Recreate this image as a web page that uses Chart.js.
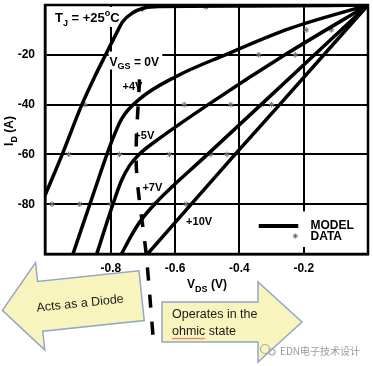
<!DOCTYPE html>
<html>
<head>
<meta charset="utf-8">
<script src="https://cdn.jsdelivr.net/npm/chart.js@4.4.1/dist/chart.umd.min.js"></script>
<style>
  html, body { margin: 0; padding: 0; background: #fff; }
</style>
</head>
<body>
<canvas id="grafico" width="373" height="366"></canvas>
<script>
// ejes
const ticksX = [-0.8, -0.6, -0.4, -0.2];
const ticksY = [-80, -60, -40, -20];

// curvas del modelo (VDS en V, ID en A)
const vds0V = [-1.005, -0.952, -0.891, -0.850, -0.816, -0.782, -0.764, -0.733, -0.696, -0.649, -0.371, 0];
const id0V = [-76.5, -60.2, -40.2, -28.7, -19.9, -11.2, -6.8, -3.2, -1.2, -0.6, -0.4, 0];

const vds4V = [-0.918, -0.853, -0.798, -0.767, -0.711, -0.597, -0.442, -0.247, 0];
const id4V = [-100, -75.3, -55.0, -45.8, -37.8, -28.7, -19.9, -9.6, 0];

const vds5V = [-0.844, -0.795, -0.767, -0.742, -0.714, -0.649, -0.495, -0.257, 0];
const id5V = [-100, -80.5, -70.5, -64.5, -60.2, -53.6, -39.8, -19.9, 0];

const vds7V = [-0.767, -0.739, -0.711, -0.665, -0.501, -0.331, 0];
const id7V = [-100, -93.2, -87.3, -80.1, -60.2, -39.8, 0];

const vds10V = [-0.686, -0.415, -0.275, 0];
const id10V = [-100, -60.2, -40.0, 0];

// puntos medidos
const vdsMedidos = [-0.881, -0.572, -0.427, -0.331, -0.300, -0.340, -0.226,
  -0.931, -0.773, -0.618, -0.489, -0.439, -0.983, -0.897, -0.801, -0.665, -0.566,
  -0.192, -0.114, -0.702, -0.504];
const idMedidos = [-40, -40, -40, -40, -40, -20, -20,
  -60, -60, -60, -60, -60, -80, -80, -80, -80, -80,
  -10, -10, -1.6, -0.8];

// limite diodo / ohmico (linea discontinua)
const vdsLimite = [-0.711, -0.721, -0.690, -0.668];
const idLimite = [-29.9, -64.5, -100.4, -134.3];

const fuente = '"Liberation Sans", Arial, sans-serif';

function puntos(xs, ys) {
  return xs.map((v, i) => ({ x: v, y: ys[i] }));
}

function curva(xs, ys) {
  return {
    data: puntos(xs, ys),
    borderColor: '#000',
    borderWidth: 3.5,
    pointRadius: 0,
    fill: false,
    cubicInterpolationMode: 'monotone'
  };
}

function textoCompuesto(ctx, partes, x, y, tam, medir) {
  let cx = x;
  partes.forEach(([t, modo]) => {
    const s = modo === 'n' ? tam : Math.round(tam * 0.72);
    const dy = modo === 'sub' ? tam * 0.3 : (modo === 'sup' ? -tam * 0.42 : 0);
    ctx.font = `bold ${s}px ${fuente}`;
    if (!medir) ctx.fillText(t, cx, y + dy);
    cx += ctx.measureText(t).width;
  });
  return cx - x;
}

function estrella(ctx, x, y, r) {
  ctx.beginPath();
  ctx.moveTo(x - r, y); ctx.lineTo(x + r, y);
  ctx.moveTo(x, y - r); ctx.lineTo(x, y + r);
  ctx.moveTo(x - r * 0.7, y - r * 0.7); ctx.lineTo(x + r * 0.7, y + r * 0.7);
  ctx.moveTo(x - r * 0.7, y + r * 0.7); ctx.lineTo(x + r * 0.7, y - r * 0.7);
  ctx.stroke();
}

function flecha(ctx, forma, cx, cy, ang) {
  ctx.save();
  ctx.translate(cx, cy);
  ctx.rotate(ang);
  ctx.beginPath();
  forma.forEach(([a, b], i) => i ? ctx.lineTo(a, b) : ctx.moveTo(a, b));
  ctx.closePath();
  ctx.fillStyle = '#f7f5bd';
  ctx.fill();
  ctx.strokeStyle = '#94a7c4';
  ctx.lineWidth = 1.5;
  ctx.stroke();
  ctx.restore();
}

const anotaciones = {
  id: 'anotaciones',
  beforeDatasetsDraw(chart) {
    const { ctx, scales: { x, y } } = chart;
    const X = v => x.getPixelForValue(v);
    const Y = v => y.getPixelForValue(v);
    ctx.save();
    ctx.fillStyle = '#fff';
    // cajas blancas que tapan la rejilla
    ctx.fillRect(X(-0.975), Y(-0.8), X(-0.765) - X(-0.975), Y(-8.8) - Y(-0.8));
    ctx.fillRect(X(-0.807), Y(-18.7), X(-0.640) - X(-0.807), Y(-25.9) - Y(-18.7));
    ctx.fillRect(X(-0.368), Y(-82.9), X(0) - X(-0.368), Y(-97.2) - Y(-82.9));

    ctx.fillStyle = '#000';
    ctx.textBaseline = 'alphabetic';
    ctx.textAlign = 'left';
    textoCompuesto(ctx, [['T', 'n'], ['J', 'sub'], [' = +25', 'n'], ['o', 'sup'], ['C', 'n']], X(-0.974), Y(-6.8), 13);
    textoCompuesto(ctx, [['V', 'n'], ['GS', 'sub'], [' = 0V', 'n']], X(-0.804), Y(-24.3), 12);
    ctx.font = `bold 11px ${fuente}`;
    ctx.fillText('+4V', X(-0.764), Y(-34.3));
    ctx.fillText('+5V', X(-0.727), Y(-53.8));
    ctx.fillText('+7V', X(-0.702), Y(-74.5));
    ctx.fillText('+10V', X(-0.566), Y(-88.4));
    ctx.restore();
  },
  afterDatasetsDraw(chart) {
    const { ctx, chartArea: a, scales: { x, y } } = chart;
    const X = v => x.getPixelForValue(v);
    const Y = v => y.getPixelForValue(v);
    ctx.save();
    // marco
    ctx.strokeStyle = '#000';
    ctx.lineWidth = 2.5;
    ctx.strokeRect(a.left, a.top, a.right - a.left, a.bottom - a.top);

    // leyenda
    ctx.lineWidth = 4;
    ctx.beginPath();
    ctx.moveTo(X(-0.34), Y(-88.8));
    ctx.lineTo(X(-0.217), Y(-88.8));
    ctx.stroke();
    ctx.strokeStyle = '#666';
    ctx.lineWidth = 1;
    estrella(ctx, X(-0.226), Y(-92.8), 2.5);
    ctx.fillStyle = '#000';
    ctx.font = `bold 12px ${fuente}`;
    ctx.fillText('MODEL', X(-0.179), Y(-90.0));
    ctx.fillText('DATA', X(-0.179), Y(-94.2));
    ctx.restore();
  },
  afterDraw(chart) {
    const { ctx } = chart;
    ctx.save();
    ctx.fillStyle = '#000';
    // titulos de ejes
    ctx.textBaseline = 'alphabetic';
    let w = textoCompuesto(ctx, [['V', 'n'], ['DS', 'sub'], [' (V)', 'n']], 0, 0, 12, true);
    textoCompuesto(ctx, [['V', 'n'], ['DS', 'sub'], [' (V)', 'n']], 207 - w / 2, 288, 12);
    ctx.save();
    ctx.translate(9, 131);
    ctx.rotate(-Math.PI / 2);
    w = textoCompuesto(ctx, [['I', 'n'], ['D', 'sub'], [' (A)', 'n']], 0, 0, 12, true);
    textoCompuesto(ctx, [['I', 'n'], ['D', 'sub'], [' (A)', 'n']], -w / 2, 4, 12);
    ctx.restore();

    // flechas
    const izq = [[-70, 0], [-32, -44], [-32, -25], [70, -25], [70, 25], [-32, 25], [-32, 44]];
    const ang = -6 * Math.PI / 180;
    flecha(ctx, izq, 72, 303, ang);
    ctx.save();
    ctx.translate(72, 303);
    ctx.rotate(ang);
    ctx.fillStyle = '#1a1a1a';
    ctx.font = `12.5px ${fuente}`;
    ctx.textAlign = 'center';
    ctx.fillText('Acts as a Diode', 8, 5);
    ctx.restore();

    const der = [[-70, -20], [26, -20], [26, -40], [70, 0], [26, 40], [26, 20], [-70, 20]];
    flecha(ctx, der, 232, 322, 0);
    ctx.fillStyle = '#1a1a1a';
    ctx.font = `12.5px ${fuente}`;
    ctx.textAlign = 'left';
    ctx.fillText('Operates in the', 172, 318);
    ctx.fillText('ohmic state', 172, 335);
    // subrayado ondulado
    const wo = ctx.measureText('ohmic').width;
    ctx.strokeStyle = '#d33';
    ctx.lineWidth = 0.8;
    ctx.beginPath();
    for (let i = 0; i <= wo; i += 1.5) {
      const yy = 338 + ((i / 1.5) % 2 ? 1 : 0);
      i ? ctx.lineTo(172 + i, yy) : ctx.moveTo(172 + i, yy);
    }
    ctx.stroke();

    // marca de agua
    ctx.strokeStyle = '#aaa';
    ctx.lineWidth = 1.2;
    ctx.beginPath();
    ctx.arc(265, 349, 4.5, 0, Math.PI * 2);
    ctx.stroke();
    ctx.beginPath();
    ctx.arc(272, 352, 3, 0, Math.PI * 2);
    ctx.stroke();
    ctx.fillStyle = '#9a9a9a';
    ctx.font = `10px "Noto Sans CJK SC", ${fuente}`;
    ctx.fillText('EDN电子技术设计', 280, 355);
    ctx.restore();
  }
};

const ejeComun = {
  type: 'linear',
  grid: { color: '#000', lineWidth: 2, drawTicks: false },
  border: { display: true, color: '#000', width: 2.5 },
  title: { display: false }
};

new Chart(document.getElementById('grafico'), {
  type: 'line',
  data: {
    datasets: [
      curva(vds0V, id0V),
      curva(vds4V, id4V),
      curva(vds5V, id5V),
      curva(vds7V, id7V),
      curva(vds10V, id10V),
      {
        data: puntos(vdsLimite, idLimite),
        borderColor: '#000',
        borderWidth: 3.5,
        borderDash: [13, 14],
        pointRadius: 0,
        tension: 0.3,
        clip: false
      },
      {
        data: puntos(vdsMedidos, idMedidos),
        showLine: false,
        pointStyle: 'star',
        pointRadius: 2.8,
        borderWidth: 1,
        borderColor: '#6f6f6f',
        backgroundColor: '#6f6f6f'
      }
    ]
  },
  options: {
    responsive: false,
    devicePixelRatio: 1,
    animation: false,
    layout: { padding: { top: 3, right: 3, left: 0, bottom: 0 } },
    plugins: { legend: { display: false }, tooltip: { enabled: false } },
    scales: {
      x: {
        ...ejeComun,
        min: -1.005,
        max: 0,
        afterBuildTicks: s => { s.ticks = ticksX.map(v => ({ value: v })); },
        afterFit: s => { s.height = 112; s.paddingLeft = 0; s.paddingRight = 0; },
        ticks: {
          color: '#000',
          padding: 7,
          maxRotation: 0,
          font: { family: fuente, size: 12, weight: 'bold' },
          callback: v => v.toFixed(1)
        }
      },
      y: {
        ...ejeComun,
        min: -100,
        max: 0,
        afterBuildTicks: s => { s.ticks = ticksY.map(v => ({ value: v })); },
        afterFit: s => { s.width = 45; s.paddingTop = 0; s.paddingBottom = 0; },
        ticks: {
          color: '#000',
          padding: 10,
          font: { family: fuente, size: 12, weight: 'bold' },
          callback: v => String(v)
        }
      }
    }
  },
  plugins: [anotaciones]
});
</script>
</body>
</html>
